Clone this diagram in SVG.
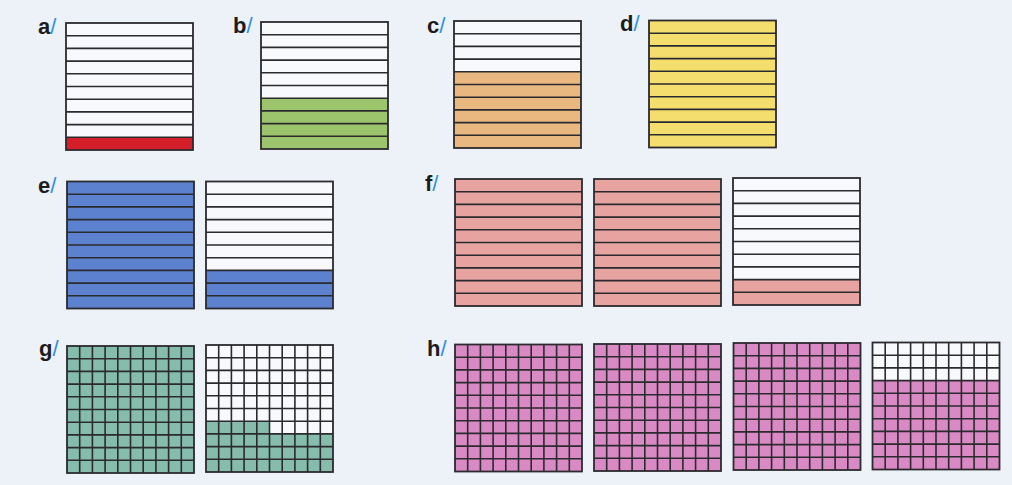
<svg xmlns="http://www.w3.org/2000/svg" xmlns:xlink="http://www.w3.org/1999/xlink" width="1012" height="485" viewBox="0 0 1012 485">
<style>
.bg{fill:#edf1f8}
.w{fill:#f8f9fc}
.ln{fill:none;stroke:#2b2a2e;stroke-width:1.6}
.fr{fill:none;stroke:#2b2a2e;stroke-width:1.8}
.lbl{font-family:"Liberation Sans",Arial,sans-serif;font-size:22px;font-weight:bold;fill:#1c1c1e}
.sl{font-weight:normal;fill:#2f8fe0}
.red{fill:#d41f2b}
.grn{fill:#9cc46c}
.org{fill:#e9b880}
.yel{fill:#f3de6e}
.blu{fill:#5c82cf}
.pnk{fill:#e6a3a0}
.tea{fill:#86bcab}
.mag{fill:#d98ac5}
</style>
<defs>
<path id="stripes" class="ln" d="M0 12.7H127M0 25.4H127M0 38.1H127M0 50.8H127M0 63.5H127M0 76.2H127M0 88.9H127M0 101.6H127M0 114.3H127"/>
<path id="vlines" class="ln" d="M12.7 0V127M25.4 0V127M38.1 0V127M50.8 0V127M63.5 0V127M76.2 0V127M88.9 0V127M101.6 0V127M114.3 0V127"/>
<rect id="frame" class="fr" x="0" y="0" width="127" height="127"/>
</defs>
<rect class="bg" x="0" y="0" width="1012" height="485"/>

<g id="labels">
<text class="lbl" x="38" y="34">a<tspan class="sl">/</tspan></text>
<text class="lbl" x="233" y="33">b<tspan class="sl">/</tspan></text>
<text class="lbl" x="427" y="33">c<tspan class="sl">/</tspan></text>
<text class="lbl" x="620" y="31">d<tspan class="sl">/</tspan></text>
<text class="lbl" x="38" y="193">e<tspan class="sl">/</tspan></text>
<text class="lbl" x="425" y="191">f<tspan class="sl">/</tspan></text>
<text class="lbl" x="39" y="356">g<tspan class="sl">/</tspan></text>
<text class="lbl" x="427" y="356">h<tspan class="sl">/</tspan></text>
</g>

<g id="a" transform="translate(66,23)">
<rect class="w" width="127" height="127"/>
<rect class="red" y="114.3" width="127" height="12.7"/>
<use xlink:href="#stripes"/><use xlink:href="#frame"/>
</g>
<g id="b" transform="translate(261,22)">
<rect class="w" width="127" height="127"/>
<rect class="grn" y="76.2" width="127" height="50.8"/>
<use xlink:href="#stripes"/><use xlink:href="#frame"/>
</g>
<g id="c" transform="translate(454,21)">
<rect class="w" width="127" height="127"/>
<rect class="org" y="50.8" width="127" height="76.2"/>
<use xlink:href="#stripes"/><use xlink:href="#frame"/>
</g>
<g id="d" transform="translate(649,20.5)">
<rect class="yel" width="127" height="127"/>
<use xlink:href="#stripes"/><use xlink:href="#frame"/>
</g>

<g id="e1" transform="translate(67,181.5)">
<rect class="blu" width="127" height="127"/>
<use xlink:href="#stripes"/><use xlink:href="#frame"/>
</g>
<g id="e2" transform="translate(206,181.5)">
<rect class="w" width="127" height="127"/>
<rect class="blu" y="88.9" width="127" height="38.1"/>
<use xlink:href="#stripes"/><use xlink:href="#frame"/>
</g>

<g id="f1" transform="translate(455,179)">
<rect class="pnk" width="127" height="127"/>
<use xlink:href="#stripes"/><use xlink:href="#frame"/>
</g>
<g id="f2" transform="translate(594,179)">
<rect class="pnk" width="127" height="127"/>
<use xlink:href="#stripes"/><use xlink:href="#frame"/>
</g>
<g id="f3" transform="translate(733,178)">
<rect class="w" width="127" height="127"/>
<rect class="pnk" y="101.6" width="127" height="25.4"/>
<use xlink:href="#stripes"/><use xlink:href="#frame"/>
</g>

<g id="g1" transform="translate(67,346)">
<rect class="tea" width="127" height="127"/>
<use xlink:href="#stripes"/><use xlink:href="#vlines"/><use xlink:href="#frame"/>
</g>
<g id="g2" transform="translate(206,345)">
<rect class="w" width="127" height="127"/>
<rect class="tea" y="88.9" width="127" height="38.1"/>
<rect class="tea" y="76.2" width="63.5" height="12.7"/>
<use xlink:href="#stripes"/><use xlink:href="#vlines"/><use xlink:href="#frame"/>
</g>

<g id="h1" transform="translate(455,344.5)">
<rect class="mag" width="127" height="127"/>
<use xlink:href="#stripes"/><use xlink:href="#vlines"/><use xlink:href="#frame"/>
</g>
<g id="h2" transform="translate(594,344)">
<rect class="mag" width="127" height="127"/>
<use xlink:href="#stripes"/><use xlink:href="#vlines"/><use xlink:href="#frame"/>
</g>
<g id="h3" transform="translate(733.5,343)">
<rect class="mag" width="127" height="127"/>
<use xlink:href="#stripes"/><use xlink:href="#vlines"/><use xlink:href="#frame"/>
</g>
<g id="h4" transform="translate(872.5,342.5)">
<rect class="w" width="127" height="127"/>
<rect class="mag" y="38.1" width="127" height="88.9"/>
<use xlink:href="#stripes"/><use xlink:href="#vlines"/><use xlink:href="#frame"/>
</g>

<g id="connectors"></g>
</svg>
